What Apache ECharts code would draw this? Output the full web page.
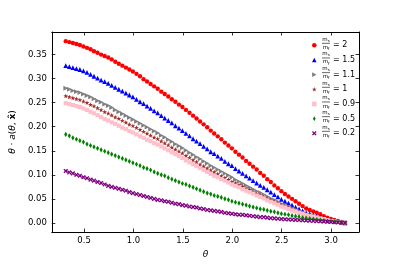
<!DOCTYPE html>
<html><head><meta charset="utf-8">
<script src="https://cdn.jsdelivr.net/npm/echarts@6/dist/echarts.min.js"></script>
<style>html,body{margin:0;padding:0;background:#fff}#c{width:399px;height:266px}</style>
</head><body><div id="c"></div>
<script>
const theta = [0.314,0.350,0.386,0.422,0.457,0.493,0.529,0.565,0.600,0.636,0.672,0.708,0.744,0.779,0.815,0.851,0.887,0.923,0.958,0.994,1.030,1.066,1.102,1.137,1.173,1.209,1.245,1.281,1.316,1.352,1.388,1.424,1.460,1.495,1.531,1.567,1.603,1.638,1.674,1.710,1.746,1.782,1.817,1.853,1.889,1.925,1.961,1.996,2.032,2.068,2.104,2.140,2.175,2.211,2.247,2.283,2.319,2.354,2.390,2.426,2.462,2.497,2.533,2.569,2.605,2.641,2.676,2.712,2.748,2.784,2.820,2.855,2.891,2.927,2.963,2.999,3.034,3.070,3.106,3.142];
const ratio2 = [0.378,0.376,0.374,0.372,0.370,0.367,0.364,0.361,0.357,0.354,0.350,0.347,0.344,0.340,0.335,0.331,0.327,0.323,0.319,0.315,0.310,0.305,0.299,0.294,0.289,0.284,0.279,0.273,0.268,0.263,0.257,0.252,0.246,0.241,0.235,0.229,0.223,0.217,0.211,0.205,0.199,0.192,0.186,0.180,0.174,0.167,0.161,0.155,0.148,0.142,0.136,0.129,0.123,0.117,0.111,0.104,0.098,0.091,0.085,0.078,0.072,0.066,0.060,0.055,0.050,0.045,0.040,0.035,0.030,0.027,0.024,0.021,0.018,0.014,0.011,0.008,0.006,0.004,0.002,0.000];
const ratio15 = [0.327,0.325,0.323,0.321,0.319,0.316,0.313,0.309,0.305,0.301,0.297,0.294,0.290,0.286,0.282,0.278,0.274,0.270,0.266,0.262,0.257,0.252,0.248,0.243,0.238,0.233,0.229,0.223,0.218,0.213,0.208,0.202,0.197,0.192,0.186,0.181,0.175,0.170,0.165,0.159,0.154,0.148,0.144,0.139,0.134,0.128,0.123,0.119,0.113,0.108,0.103,0.098,0.093,0.088,0.083,0.078,0.074,0.069,0.064,0.059,0.054,0.049,0.045,0.041,0.037,0.033,0.029,0.025,0.021,0.019,0.017,0.014,0.012,0.010,0.007,0.005,0.004,0.003,0.001,0.000];
const ratio11 = [0.280,0.278,0.275,0.273,0.271,0.268,0.265,0.262,0.258,0.254,0.251,0.247,0.244,0.240,0.235,0.231,0.227,0.223,0.219,0.215,0.211,0.207,0.203,0.199,0.195,0.191,0.187,0.182,0.178,0.173,0.169,0.164,0.160,0.156,0.151,0.146,0.142,0.137,0.133,0.128,0.124,0.119,0.115,0.111,0.107,0.103,0.099,0.095,0.090,0.086,0.082,0.078,0.074,0.070,0.066,0.063,0.059,0.055,0.051,0.048,0.044,0.040,0.037,0.034,0.031,0.028,0.025,0.022,0.019,0.017,0.015,0.013,0.011,0.009,0.007,0.005,0.004,0.003,0.001,0.000];
const ratio1 = [0.264,0.262,0.260,0.258,0.256,0.253,0.250,0.246,0.243,0.239,0.235,0.231,0.228,0.224,0.220,0.217,0.213,0.209,0.205,0.202,0.198,0.194,0.190,0.186,0.182,0.178,0.175,0.170,0.166,0.162,0.157,0.153,0.149,0.145,0.140,0.136,0.131,0.127,0.122,0.118,0.114,0.110,0.106,0.102,0.098,0.094,0.090,0.086,0.083,0.079,0.076,0.072,0.069,0.065,0.061,0.058,0.054,0.051,0.048,0.044,0.041,0.037,0.034,0.032,0.029,0.026,0.023,0.020,0.017,0.015,0.013,0.012,0.010,0.008,0.006,0.004,0.003,0.002,0.001,0.000];
const ratio09 = [0.249,0.247,0.245,0.243,0.241,0.238,0.235,0.231,0.228,0.224,0.220,0.216,0.213,0.209,0.206,0.202,0.198,0.195,0.191,0.188,0.184,0.180,0.177,0.173,0.170,0.166,0.163,0.159,0.155,0.151,0.147,0.143,0.139,0.135,0.130,0.126,0.122,0.118,0.114,0.110,0.106,0.102,0.098,0.095,0.091,0.088,0.084,0.080,0.077,0.074,0.070,0.067,0.064,0.061,0.057,0.054,0.051,0.047,0.044,0.041,0.038,0.034,0.032,0.029,0.026,0.024,0.021,0.019,0.016,0.014,0.013,0.011,0.009,0.008,0.006,0.004,0.003,0.002,0.001,0.000];
const ratio05 = [0.184,0.181,0.177,0.174,0.171,0.168,0.164,0.161,0.158,0.155,0.152,0.149,0.146,0.143,0.140,0.137,0.134,0.131,0.128,0.125,0.122,0.119,0.115,0.113,0.110,0.106,0.103,0.100,0.098,0.094,0.091,0.088,0.085,0.082,0.080,0.077,0.074,0.071,0.068,0.065,0.062,0.060,0.057,0.055,0.053,0.050,0.048,0.045,0.043,0.041,0.039,0.037,0.035,0.033,0.031,0.029,0.028,0.026,0.024,0.023,0.021,0.019,0.018,0.017,0.015,0.014,0.013,0.011,0.010,0.009,0.008,0.007,0.006,0.005,0.004,0.003,0.002,0.002,0.001,0.000];
const ratio02 = [0.108,0.105,0.103,0.100,0.098,0.095,0.093,0.090,0.088,0.085,0.083,0.080,0.077,0.075,0.073,0.071,0.069,0.067,0.064,0.062,0.060,0.058,0.056,0.054,0.052,0.050,0.048,0.047,0.045,0.044,0.042,0.040,0.039,0.037,0.036,0.034,0.033,0.032,0.030,0.029,0.027,0.026,0.025,0.024,0.023,0.021,0.020,0.019,0.018,0.017,0.017,0.016,0.015,0.014,0.013,0.012,0.012,0.011,0.010,0.0095,0.0088,0.0081,0.0076,0.0072,0.0067,0.0063,0.0059,0.0055,0.0050,0.0046,0.0042,0.0037,0.0033,0.0029,0.0024,0.0020,0.0015,0.0010,0.0005,0.0000];
const ratioLabels = ['2','1.5','1.1','1','0.9','0.5','0.2'];
const xTicks = [0.5,1.0,1.5,2.0,2.5,3.0];
const yTicks = [0.00,0.05,0.10,0.15,0.20,0.25,0.30,0.35];

const seriesValues = [ratio2, ratio15, ratio11, ratio1, ratio09, ratio05, ratio02];
const colors = ['#ff0000','#0000ff','#808080','#a52a2a','#ffc0cb','#008000','#800080'];
const symbols = ['circle','triangle','path://M-8,-9 L9,0 L-8,9 Z',
  'path://M0,-10 L2.35,-3.24 L9.51,-3.09 L3.80,1.24 L5.88,8.09 L0,4 L-5.88,8.09 L-3.80,1.24 L-9.51,-3.09 L-2.35,-3.24 Z',
  'rect','path://M0,-10 L6,0 L0,10 L-6,0 Z',
  'path://M-10,-6 L-6,-10 L0,-4 L6,-10 L10,-6 L4,0 L10,6 L6,10 L0,4 L-6,10 L-10,6 L-4,0 Z'];
const sizes = [4.4,4.8,4.8,4.8,4.2,[3.2,5.2],4.6];

const font = 'DejaVu Sans';
const names = ratioLabels.map(v => 'm_s/m_f = ' + v);

const series = seriesValues.map((vals, k) => ({
  type: 'scatter', name: names[k], xAxisIndex: 0, yAxisIndex: 0,
  data: theta.map((t, i) => [t, vals[i]]),
  symbol: symbols[k], symbolSize: sizes[k],
  itemStyle: { color: colors[k], opacity: 1 },
  emphasis: { disabled: true }, animation: false
}));

const axisCommonX = {
  type: 'value', min: 0.173, max: 3.283,
  axisLine: { show: true, onZero: false, lineStyle: { color: '#000', width: 1 } },
  axisTick: { show: true, inside: true, length: 3.5, customValues: xTicks, lineStyle: { color: '#000', width: 0.8 } },
  splitLine: { show: false }
};
const axisCommonY = {
  type: 'value', min: -0.0189, max: 0.397,
  axisLine: { show: true, onZero: false, lineStyle: { color: '#000', width: 1 } },
  axisTick: { show: true, inside: true, length: 3.5, customValues: yTicks, lineStyle: { color: '#000', width: 0.8 } },
  splitLine: { show: false }
};

const graphics = [];
const legendTop = 43.3, legendStep = 14.67, fracX = 326;
ratioLabels.forEach((v, k) => {
  const y = legendTop + k * legendStep;
  graphics.push({ type: 'text', x: fracX, y: y - 0.6, silent: true,
    style: { text: '{m|m}{s|s}', align: 'center', verticalAlign: 'bottom',
      rich: { m: { fontFamily: font, fontSize: 5.5, fill: '#000' }, s: { fontFamily: font, fontSize: 3.8, fill: '#000', padding: [3,0,0,0] } } } });
  graphics.push({ type: 'line', silent: true, shape: { x1: fracX - 4, y1: y, x2: fracX + 4, y2: y }, style: { stroke: '#000', lineWidth: 0.6 } });
  graphics.push({ type: 'text', x: fracX, y: y + 0.6, silent: true,
    style: { text: '{m|m}{s|f}', align: 'center', verticalAlign: 'top',
      rich: { m: { fontFamily: font, fontSize: 5.5, fill: '#000' }, s: { fontFamily: font, fontSize: 3.8, fill: '#000', padding: [3,0,0,0] } } } });
});

const chart = echarts.init(document.getElementById('c'), null, { renderer: 'canvas' });
chart.setOption({
  animation: false,
  backgroundColor: '#fff',
  grid: { left: 50, right: 40, top: 32, bottom: 34, containLabel: false },
  xAxis: [
    Object.assign({}, axisCommonX, { position: 'bottom',
      name: 'θ', nameLocation: 'middle', nameGap: 15,
      nameTextStyle: { fontFamily: font, fontSize: 9, fontStyle: 'italic', color: '#000' },
      axisLabel: { show: true, customValues: xTicks, margin: 4, fontFamily: font, fontSize: 8.5, color: '#000',
        formatter: v => v.toFixed(1) } }),
    Object.assign({}, axisCommonX, { position: 'top', axisLabel: { show: false } })
  ],
  yAxis: [
    Object.assign({}, axisCommonY, { position: 'left',
      name: '{i|θ} · {i|a}({i|θ}, {b|x̂})', nameLocation: 'middle', nameGap: 30, nameRotate: 90,
      nameTextStyle: { fontFamily: font, fontSize: 9, color: '#000',
        rich: { i: { fontFamily: font, fontSize: 9, fontStyle: 'italic', color: '#000' },
                b: { fontFamily: font, fontSize: 9, fontWeight: 'bold', color: '#000' } } },
      axisLabel: { show: true, customValues: yTicks, margin: 5, fontFamily: font, fontSize: 8.5, color: '#000',
        formatter: v => v.toFixed(2) } }),
    Object.assign({}, axisCommonY, { position: 'right', axisLabel: { show: false } })
  ],
  legend: {
    orient: 'vertical', left: 307, top: 35.8, itemWidth: 4.6, itemHeight: 4.6, itemGap: 5.67,
    selectedMode: false,
    textStyle: { fontFamily: font, fontSize: 8, color: '#000', lineHeight: 9, padding: [0, 0, 0, 11.5] },
    formatter: name => '= ' + name.split('= ')[1],
    data: names
  },
  graphic: graphics,
  series: series
});
</script></body></html>
